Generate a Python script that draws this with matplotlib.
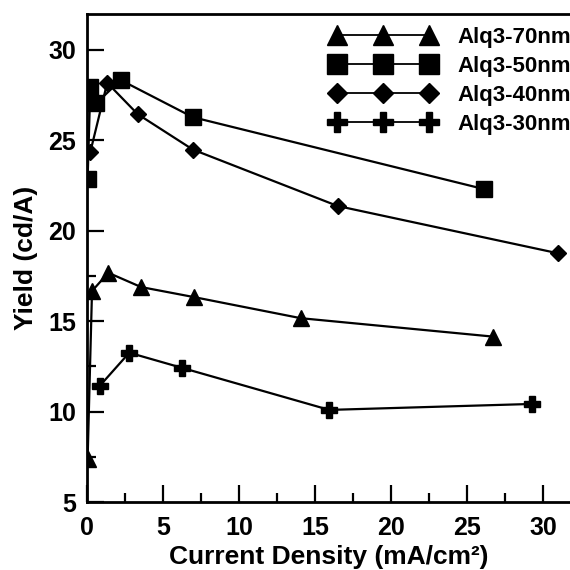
import numpy as np
import matplotlib
matplotlib.use("Agg")
import matplotlib.pyplot as plt
from matplotlib.ticker import MultipleLocator

plt.rcParams['font.family'] = ['Liberation Sans', 'DejaVu Sans']
plt.rcParams['font.weight'] = 'bold'

# values
x_70 = [0.04, 0.33, 1.40, 3.56, 7.07, 14.06, 26.73]
y_70 = [7.37, 16.66, 17.67, 16.88, 16.32, 15.16, 14.14]

x_50 = [0.04, 0.22, 0.62, 2.22, 6.96, 26.14]
y_50 = [22.85, 27.93, 27.05, 28.32, 26.27, 22.29]

x_40 = [0.22, 1.33, 3.33, 6.96, 16.49, 30.97]
y_40 = [24.35, 28.17, 26.44, 24.48, 21.36, 18.75]

x_30 = [0.84, 2.78, 6.27, 15.94, 29.30]
y_30 = [11.42, 13.25, 12.41, 10.09, 10.42]

labels = ["Alq3-70nm", "Alq3-50nm", "Alq3-40nm", "Alq3-30nm"]

W = 570
fig = plt.figure(figsize=(5.7, 5.7), dpi=100)
ax = fig.add_axes([87 / W, (W - 502) / W, (W - 87) / W, (502 - 13.5) / W])

ax.plot(x_70, y_70, color='black', lw=1.6, marker='^', ms=11.5, label=labels[0])
ax.plot(x_50, y_50, color='black', lw=1.6, marker='s', ms=11.5, label=labels[1])
ax.plot(x_40, y_40, color='black', lw=1.6, marker='D', ms=8.2, label=labels[2])
ax.plot(x_30, y_30, color='black', lw=1.6, marker='P', ms=12, label=labels[3])

ax.set_xlim(0, (W - 87) / 15.2)
ax.set_ylim(5, 32)
ax.xaxis.set_major_locator(MultipleLocator(5))
ax.xaxis.set_minor_locator(MultipleLocator(2.5))
ax.yaxis.set_major_locator(MultipleLocator(5))
ax.yaxis.set_minor_locator(MultipleLocator(2.5))

ax.spines['right'].set_visible(False)
for s in ['left', 'bottom', 'top']:
    ax.spines[s].set_linewidth(2)

ax.tick_params(which='both', direction='in', top=False, right=False, width=1.6)
ax.tick_params(which='major', length=12.5)
ax.tick_params(which='minor', length=6.5)
ax.tick_params(axis='x', labelsize=18, pad=10)
ax.tick_params(axis='y', labelsize=18, pad=8)

ax.set_xlabel("Current Density (mA/cm²)", fontsize=19, fontweight='bold', labelpad=4)
ax.set_ylabel("Yield (cd/A)", fontsize=19, fontweight='bold', labelpad=7)

leg = ax.legend(loc='upper left', bbox_to_anchor=(330 / W, 1 - 27 / W),
                bbox_transform=fig.transFigure, frameon=False, numpoints=3,
                markerscale=1.25, handlelength=4.75, handletextpad=1.0,
                labelspacing=0.36, borderpad=0, borderaxespad=0,
                prop={'size': 16, 'weight': 'bold'})
for line in leg.get_lines():
    line.set_linewidth(1.3)

fig.savefig("out.png", dpi=100)
